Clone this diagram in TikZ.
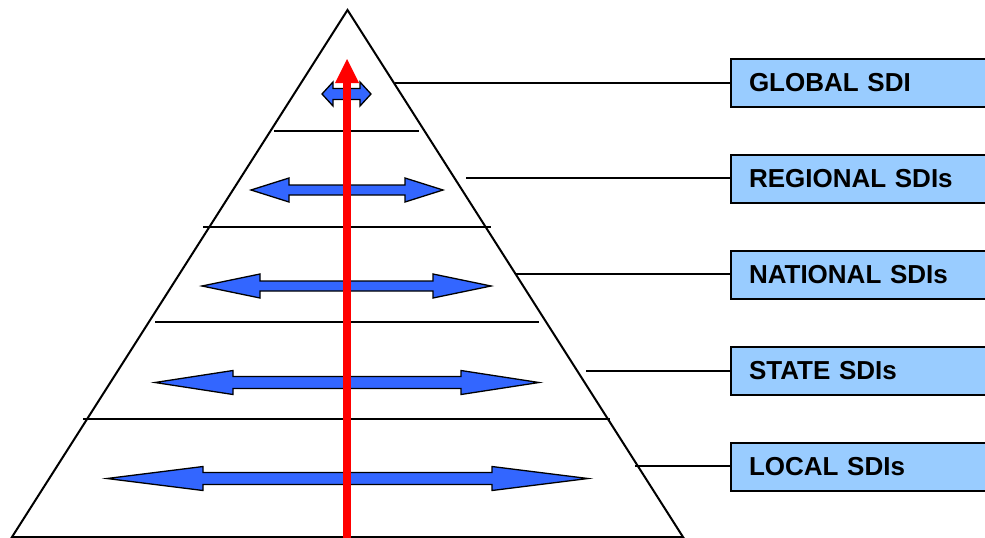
\documentclass[tikz,border=0pt]{standalone}
\usepackage{fontspec}
\setmainfont{Liberation Sans}
\usetikzlibrary{arrows.meta,positioning}
\definecolor{sdiBlue}{RGB}{51,102,255}
\definecolor{sdiBox}{RGB}{153,204,255}
\tikzset{
  level line/.style={line width=1.6pt,draw=black},
  pyramid edge/.style={line width=2pt,draw=black,line join=miter},
  sdi box/.style={draw=black,fill=sdiBox,line width=1.6pt,outer sep=0pt,anchor=west,minimum height=48pt,text width=232pt,inner xsep=18pt,align=left,font=\bfseries\fontsize{26}{30}\selectfont},
  sdi link/.style={line width=1.6pt,draw=black},
  sdi arrow/.style={draw=black,fill=sdiBlue,line width=1.3pt,line join=miter},
  up shaft/.style={line width=8pt,draw=red},
  up head/.style={fill=red}
}
% double headed block arrow: y, left tip, right tip, head length, half shaft
\newcommand{\sdiArrow}[5]{%
  \draw[sdi arrow] (#2,#1) -- ({#2+#4},{#1-12}) -- ({#2+#4},{#1-#5}) -- ({#3-#4},{#1-#5})
    -- ({#3-#4},{#1-12}) -- (#3,#1) -- ({#3-#4},{#1+12}) -- ({#3-#4},{#1+#5})
    -- ({#2+#4},{#1+#5}) -- ({#2+#4},{#1+12}) -- cycle;}

\begin{document}
\begin{tikzpicture}[x=1pt,y=-1pt,node distance=48pt]
        \useasboundingbox (0,0) rectangle (985,538);
        % pyramid
        \coordinate (apex) at (347.5,10);
        \coordinate (baseL) at (12,537);
        \coordinate (baseR) at (683,537);
        \draw[pyramid edge] (baseL) -- (apex) -- (baseR) -- cycle;
        \draw[level line] (274,131) -- (419,131);
        \draw[level line] (203,227) -- (491,227);
        \draw[level line] (155,322) -- (539,322);
        \draw[level line] (83,419) -- (610,419);
        % exchange between neighbours
        \sdiArrow{94}{322}{371}{11}{5.5}
        \sdiArrow{190}{251}{443}{38}{5}
        \sdiArrow{286}{202}{491}{58}{5}
        \sdiArrow{382.5}{155}{539}{78}{6}
        \sdiArrow{478.5}{107}{588}{96}{6}
        % upward flow
        \coordinate (flowStart) at (347,540);
        \coordinate (flowBase) at (347,83);
        \coordinate (flowEnd) at (347,59);
        \draw[up shaft] (flowStart) -- ([yshift=1pt]flowBase);
        \fill[up head] (flowEnd) -- ([xshift=-12pt]flowBase) -- ([xshift=12pt]flowBase) -- cycle;
        % labels
        \node[sdi box] (global) at (731,83) {GLOBAL SDI};
        \node[sdi box,below=of global.south west,anchor=north west] (regional) {REGIONAL SDIs};
        \node[sdi box,below=of regional.south west,anchor=north west] (national) {NATIONAL SDIs};
        \node[sdi box,below=of national.south west,anchor=north west] (state) {STATE SDIs};
        \node[sdi box,below=of state.south west,anchor=north west] (local) {LOCAL SDIs};
        \coordinate (eGlobal) at (395,83);
        \coordinate (eRegional) at (466,178);
        \coordinate (eNational) at (515,274);
        \coordinate (eState) at (586,371);
        \coordinate (eLocal) at (635,466);
        \draw[sdi link] (eGlobal) -- (eGlobal -| global.west);
        \draw[sdi link] (eRegional) -- (eRegional -| regional.west);
        \draw[sdi link] (eNational) -- (eNational -| national.west);
        \draw[sdi link] (eState) -- (eState -| state.west);
        \draw[sdi link] (eLocal) -- (eLocal -| local.west);
      \end{tikzpicture}
\end{document}
